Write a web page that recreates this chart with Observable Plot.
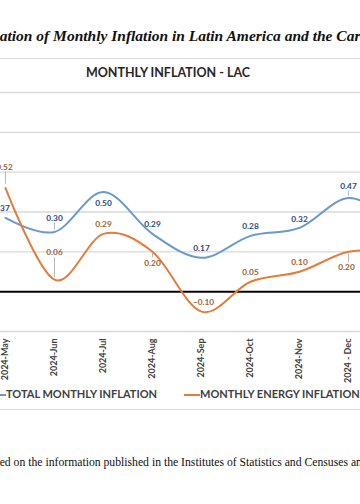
<!DOCTYPE html>
<html><head><meta charset="utf-8">
<script src="https://cdn.jsdelivr.net/npm/d3@7"></script>
<script src="https://cdn.jsdelivr.net/npm/@observablehq/plot@0.6"></script>
<style>
html,body{margin:0;padding:0;background:#fff;width:360px;height:504px;overflow:hidden;}
#wrap{position:relative;width:360px;height:504px;overflow:hidden;background:#fff;}
.abs{position:absolute;white-space:nowrap;line-height:1;}
#title{font-family:"Liberation Serif","Times New Roman",serif;font-style:italic;font-weight:bold;font-size:15.5px;color:#111;top:28px;}
#subtitle{font-family:Lato,"Open Sans",sans-serif;font-weight:bold;font-size:12.5px;color:#262626;top:67px;left:0;width:336px;text-align:center;}
.leg{font-family:Lato,"Open Sans",sans-serif;font-weight:bold;font-size:11px;color:#404040;top:388px;}
.sw{position:absolute;height:2px;top:394px;}
#foot{font-family:"Liberation Serif","Times New Roman",serif;font-size:11.7px;color:#111;top:457px;}
.border{position:absolute;left:0;width:360px;height:0;border-top:1.5px solid #dcdcdc;}
#chart{position:absolute;left:0;top:0;}
#chart svg g[aria-label^="x-axis"] text{font-weight:700;fill:#404040;}
</style></head><body>
<div id="wrap">
  <div class="abs" id="title"><span id="tpre">Vari</span>ation of Monthly Inflation in Latin America and the Caribbean</div>
  <div class="border" style="top:58px"></div>
  <div class="abs" id="subtitle">MONTHLY INFLATION - LAC</div>
  <div id="chart"></div>
  <div class="sw" style="left:-10px;width:16px;background:#6A9AC9"></div>
  <div class="abs leg" style="left:6px">TOTAL MONTHLY INFLATION</div>
  <div class="sw" style="left:184px;width:16px;background:#E07E3C"></div>
  <div class="abs leg" style="left:200px">MONTHLY ENERGY INFLATION</div>
  <div class="border" style="top:409px"></div>
  <div class="abs" id="foot"><span id="fpre">Source: OLADE, bas</span>ed on the information published in the Institutes of Statistics and Censuses and Central Banks.</div>
</div>
<script>
// ---- data ----
const months = ["2024-May","2024-Jun","2024-Jul","2024-Aug","2024-Sep","2024-Oct","2024-Nov","2024 - Dec","2025-Jan"];
const totalInflation = [0.37, 0.30, 0.50, 0.29, 0.17, 0.28, 0.32, 0.47, 0.35];
const energyInflation = [0.52, 0.06, 0.29, 0.20, -0.10, 0.05, 0.10, 0.20, 0.20];
const gridTicks = [-0.2, 0.2, 0.4, 0.6, 0.8, 1.0];

// ---- styling (label offsets in px, not data) ----
const blueColor = "#6A9AC9", orangeColor = "#E07E3C";
const blueLabelDy = [-10, -14, 11, -10, -9, -10, -9, -12, -10];
const blueLabelDx = [-4, 0, 0, 0, 0, 0, 0, 0, 0];
const orangeLabelDy = [-21, -27, -10, 12, -9, -9, -9, 16, -10];
const orangeLabelDx = [-1, 0, 0, 0, 2, 0, 0, -2, 0];
// leaders: [series, index, fromPx, toPx] relative to the point
const leaders = [["t",1,-9,-2],["t",7,-7,-2],["e",0,-16,-4],["e",1,-22,-2],["e",3,6,1],["e",7,11,2]];

const total = months.map((m, i) => ({month: m, value: totalInflation[i], i}));
const energy = months.map((m, i) => ({month: m, value: energyInflation[i], i}));

const yDomain = [-0.2, 1.0];
const marginTop = 92, marginBottom = 173, H = 504;
const k = (H - marginTop - marginBottom) / (yDomain[1] - yDomain[0]); // px per unit
const fmt = d3.format(".2f");

const labelMarks = [];
total.forEach(d => labelMarks.push(Plot.text([d], {x: "month", y: "value", text: d => fmt(d.value), dx: blueLabelDx[d.i], dy: blueLabelDy[d.i], fill: "#2F4A78", fontSize: 8.3, fontWeight: "bold"})));
energy.forEach(d => labelMarks.push(Plot.text([d], {x: "month", y: "value", text: d => fmt(d.value), dx: orangeLabelDx[d.i], dy: orangeLabelDy[d.i], fill: "#9C6436", fontSize: 8.3, fontWeight: "bold"})));
const leaderMarks = leaders.map(([s, i, a, b]) => {
  const d = (s === "t" ? total : energy)[i];
  return Plot.ruleX([d], {x: "month", y1: d => d.value - a / k, y2: d => d.value - b / k, stroke: "#a6a6a6", strokeWidth: 0.8});
});

const chart = Plot.plot({
  width: 360,
  height: H,
  marginTop, marginBottom, marginLeft: 0, marginRight: 0,
  style: {fontFamily: "Lato, 'Open Sans', sans-serif", fontSize: "9px", overflow: "hidden", background: "transparent"},
  x: {type: "point", domain: months, range: [3, 3 + 8 * 49.5], padding: 0, label: null, tickSize: 0, tickPadding: 7, tickRotate: -90},
  y: {domain: yDomain, axis: null},
  marks: [
    Plot.ruleY(gridTicks, {stroke: "#d9d9d9", strokeWidth: 1.3}),
    Plot.ruleY([0], {stroke: "#000", strokeWidth: 2}),
    Plot.line(total, {x: "month", y: "value", curve: "cardinal", stroke: blueColor, strokeWidth: 2}),
    Plot.line(energy, {x: "month", y: "value", curve: "cardinal", stroke: orangeColor, strokeWidth: 2}),
    ...leaderMarks,
    ...labelMarks
  ]
});
document.getElementById("chart").appendChild(chart);

// shift clipped texts so the visible portion matches
const t = document.getElementById("title");
t.style.left = (-document.getElementById("tpre").offsetWidth) + "px";
const f = document.getElementById("foot");
f.style.left = (-document.getElementById("fpre").offsetWidth) + "px";
</script>
</body></html>
